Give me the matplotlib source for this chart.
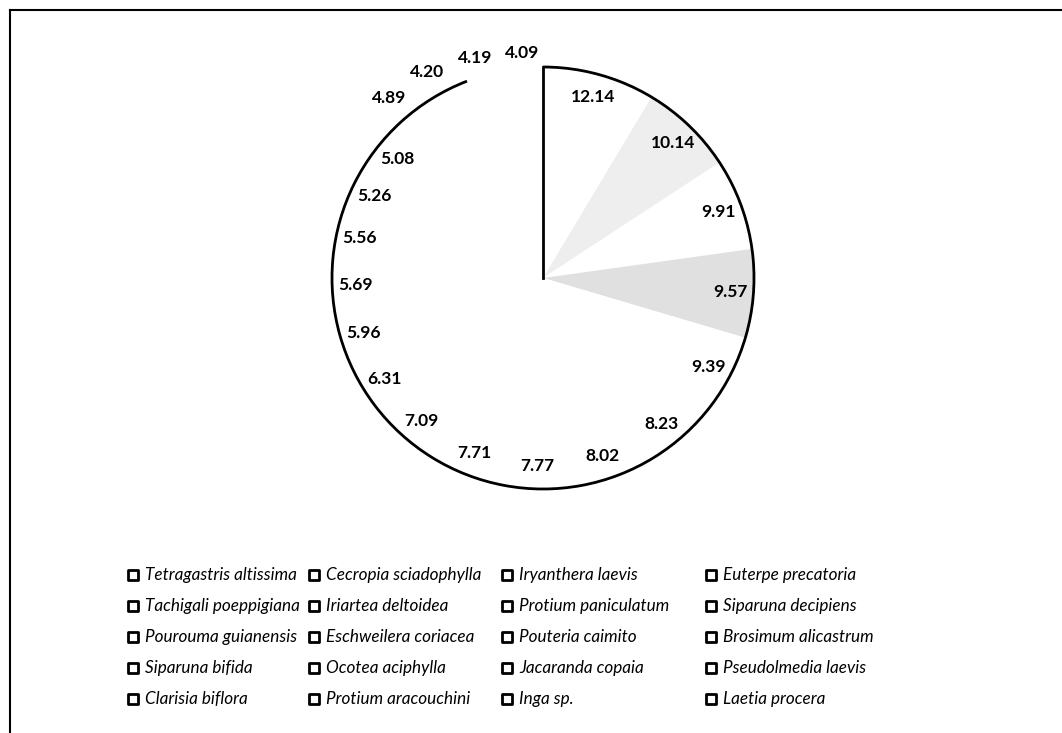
import matplotlib.pyplot as plt
import numpy as np
from matplotlib.patches import Arc

species = [
    "Tetragastris altissima", "Cecropia sciadophylla", "Iryanthera laevis", "Euterpe precatoria",
    "Tachigali poeppigiana", "Iriartea deltoidea", "Protium paniculatum", "Siparuna decipiens",
    "Pourouma guianensis", "Eschweilera coriacea", "Pouteria caimito", "Brosimum alicastrum",
    "Siparuna bifida", "Ocotea aciphylla", "Jacaranda copaia", "Pseudolmedia laevis",
    "Clarisia biflora", "Protium aracouchini", "Inga sp.", "Laetia procera",
]
values = [12.14, 10.14, 9.91, 9.57, 9.39, 8.23, 8.02, 7.77, 7.71, 7.09,
          6.31, 5.96, 5.69, 5.56, 5.26, 5.08, 4.89, 4.20, 4.19, 4.09]
value_labels = ["%.2f" % v for v in values]

W, H = 1062, 733
center = (543, H - 278)
radius = 211

fig = plt.figure(figsize=(W / 100, H / 100), dpi=100)
ax = fig.add_axes([0, 0, 1, 1])

# Scanned-looking fills: mostly white, two lightly stippled slices
face_colors = ["white"] * len(values)
face_colors[1] = "#eeeeee"
face_colors[3] = "#e0e0e0"

wedges, _ = ax.pie(
    values,
    center=center,
    radius=radius,
    startangle=90,
    counterclock=False,
    colors=face_colors,
    wedgeprops={"edgecolor": "none"},
    frame=True,
)
ax.set_xlim(0, W)
ax.set_ylim(0, H)
ax.set_aspect("equal")
ax.axis("off")

# Outline is missing over the last two slices in the original
ax.add_patch(Arc(center, 2 * radius, 2 * radius, theta1=wedges[-2].theta2, theta2=450,
                 color="black", linewidth=2))
ax.plot([center[0], center[0]], [center[1], center[1] + radius], color="black", linewidth=2)

# Value labels, the last few sit outside the circle
label_radius = [0.89] * len(values)
label_radius[-4:] = [1.12, 1.12, 1.09, 1.07]
label_shift = [0.0] * len(values)
label_shift[-4:] = [2.5, 3.0, 1.5, 0.0]  # degrees, pushed a bit counter-clockwise
for wedge, text, r, shift in zip(wedges, value_labels, label_radius, label_shift):
    mid = np.deg2rad((wedge.theta1 + wedge.theta2) / 2 + shift)
    ax.text(center[0] + r * radius * np.cos(mid), center[1] + r * radius * np.sin(mid), text,
            ha="center", va="center", fontsize=12.5, fontweight="bold", family="Lato")

# Legend, 4 columns read row by row
col_x = [133, 314, 507, 711]
row_y = [575, 606, 637, 668, 699]
for i, name in enumerate(species):
    x = col_x[i % 4]
    y = H - row_y[i // 4]
    ax.scatter([x], [y], marker="s", s=45, facecolor="white", edgecolor="black", linewidth=2)
    ax.text(x + 12, y, name, ha="left", va="center", fontsize=12.3, style="italic", family="Lato")

# Partial frame of the scan (top and left only)
ax.plot([10, W], [H - 10, H - 10], color="black", linewidth=1.5)
ax.plot([10, 10], [0, H - 10], color="black", linewidth=1.5)

fig.savefig("out.png", dpi=100)
